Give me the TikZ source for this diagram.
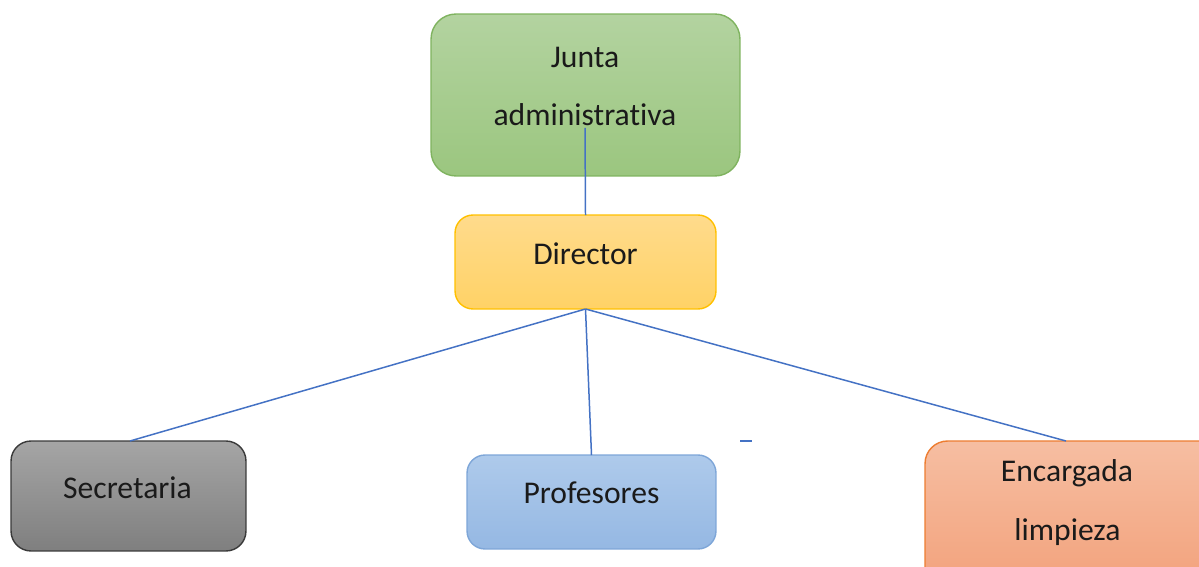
\documentclass[tikz,border=0pt]{standalone}
\usepackage{fontspec}
\setmainfont{Carlito}[Ligatures={NoCommon}]
\definecolor{lineblue}{HTML}{4472C4}
\definecolor{txtc}{HTML}{1A1A1A}
\definecolor{gD}{HTML}{7FB35F}\definecolor{gT}{HTML}{B3D3A0}\definecolor{gB}{HTML}{9BC67F}
\definecolor{yD}{HTML}{FFC000}\definecolor{yT}{HTML}{FFDB8C}\definecolor{yB}{HTML}{FFD266}
\definecolor{kD}{HTML}{3A3A3A}\definecolor{kT}{HTML}{A5A5A5}\definecolor{kB}{HTML}{7F7F7F}
\definecolor{bD}{HTML}{7EA6D8}\definecolor{bT}{HTML}{AECAEB}\definecolor{bB}{HTML}{95B8E3}
\definecolor{oD}{HTML}{ED7D31}\definecolor{oT}{HTML}{F6BEA2}\definecolor{oB}{HTML}{F29F78}
\begin{document}
\begin{tikzpicture}[x=0.02cm,y=-0.02cm,
  box/.style={draw, line width=0.8pt, inner sep=0pt, outer sep=0pt, shape=rectangle},
  txt/.style={anchor=base, inner sep=0pt, font=\fontsize{18}{20}\selectfont, text=txtc},
  conn/.style={draw=lineblue, line width=0.85pt}]
\useasboundingbox (0,0) rectangle (1199,567);
\clip (0,0) rectangle (1199,567);
% boxes
\node[box, draw=gD, top color=gT, bottom color=gB,
  rounded corners=0.5cm, minimum width=6.18cm, minimum height=3.24cm] (junta) at (585.5,95) {};
\node[box, draw=yD, top color=yT, bottom color=yB,
  rounded corners=0.36cm, minimum width=5.22cm, minimum height=1.88cm] (dir) at (585.5,262) {};
\node[box, draw=kD, top color=kT, bottom color=kB,
  rounded corners=0.4cm, minimum width=4.7cm, minimum height=2.2cm] (sec) at (128.5,496) {};
\node[box, draw=bD, top color=bT, bottom color=bB,
  rounded corners=0.36cm, minimum width=4.98cm, minimum height=1.88cm] (prof) at (591.5,502) {};
\node[box, draw=oD, top color=oT, bottom color=oB,
  rounded corners=0.45cm, minimum width=6.2cm, minimum height=3.2cm] (enc) at (1080,521) {};
% texts
\node[txt] (t1) at (585,68) {Junta};
\node[txt] (t2) at (585,126) {administrativa};
\node[txt] (t3) at (585.5,265) {Director};
\node[txt] (t4) at (127.5,498) {Secretaria};
\node[txt] (t5) at (591.5,503) {Profesores};
\node[txt] (t6) at (1067,481) {Encargada};
\node[txt] (t7) at (1067.5,540) {limpieza};
% connectors
\coordinate (jt) at (585,128);
\coordinate (secT) at (130,441);
\coordinate (encT) at (1066,441);
\draw[conn] (dir.north) -- (jt);
\draw[conn] (dir.south) -- (secT);
\draw[conn] (dir.south) -- (prof.north);
\draw[conn] (dir.south) -- (encT);
\coordinate (d1) at (740,441);
\coordinate (d2) at (752,441);
\draw[draw=lineblue, line width=1.1pt] (d1) -- (d2);
\end{tikzpicture}
\end{document}
